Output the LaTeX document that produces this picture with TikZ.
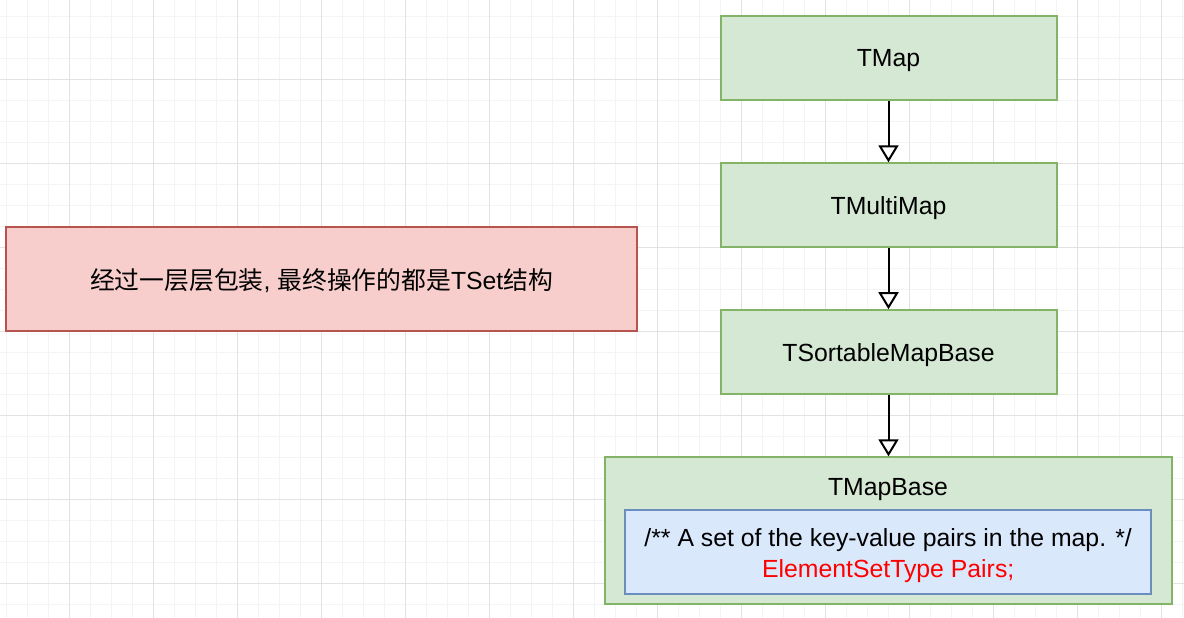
\documentclass[tikz,border=0pt]{standalone}
\usepackage{fontspec}
\setmainfont{Liberation Sans}
\newfontfamily\cjk{Noto Sans CJK SC}
\usetikzlibrary{arrows.meta}
\definecolor{gfill}{HTML}{D5E8D4}
\definecolor{gdraw}{HTML}{82B366}
\definecolor{rfill}{HTML}{F8CECC}
\definecolor{rdraw}{HTML}{B85450}
\definecolor{bfill}{HTML}{DAE8FC}
\definecolor{bdraw}{HTML}{6C8EBF}
\definecolor{gridminor}{HTML}{F4F4F4}
\definecolor{gridmajor}{HTML}{E2E2E2}
\definecolor{codered}{HTML}{FF0000}
\tikzset{
  box/.style={rectangle, draw=gdraw, fill=gfill, line width=2pt, inner sep=0pt,
    font=\fontsize{24.8}{31}\selectfont, align=center},
  onel/.style={text depth=0pt},
  redbox/.style={box, draw=rdraw, fill=rfill},
  bluebox/.style={box, draw=bdraw, fill=bfill},
  lbl/.style={inner sep=0pt, text depth=0pt, font=\fontsize{24.8}{31}\selectfont},
  conn/.style={line width=2pt, -{Triangle[width=20pt,length=17pt,fill=white]}}
}
\begin{document}
\begin{tikzpicture}[x=1pt,y=-1pt]
\useasboundingbox (0,0) rectangle (1184,618);
\fill[white] (0,0) rectangle (1184,618);
% grid
\foreach \i in {0,...,56} {
  \draw[gridminor, line width=0.9pt] ({6.3+21*\i},0) -- ({6.3+21*\i},618);
}
\foreach \j in {0,...,29} {
  \draw[gridminor, line width=0.9pt] (0,{16.3+21*\j}) -- (1184,{16.3+21*\j});
}
\foreach \i in {0,...,13} {
  \draw[gridmajor, line width=0.9pt] ({69.3+84*\i},0) -- ({69.3+84*\i},618);
}
\foreach \j in {0,...,6} {
  \draw[gridmajor, line width=0.9pt] (0,{79.3+84*\j}) -- (1184,{79.3+84*\j});
}
% nodes
\node[box, onel, minimum width=336pt, minimum height=84pt] (tmap) at (888.5,58) {TMap};
\node[box, onel, minimum width=336pt, minimum height=84pt] (tmulti) at (888.5,205.3) {TMultiMap};
\node[box, onel, minimum width=336pt, minimum height=84pt] (tsort) at (888.5,352.2) {TSortableMapBase};
\node[box, minimum width=567pt, minimum height=147pt] (tbase) at (888,530.8) {};
\node[lbl] (tbaselbl) at (888,486.7) {TMapBase};
\node[bluebox, minimum width=526pt, minimum height=84pt] (pairs) at (888.2,552.2) {};
\node[lbl, align=center, text depth=] (pairstext) at (888.2,555.2)
  {/** A set of the key-value pairs in the map. */\\\textcolor{codered}{ElementSetType Pairs;}};
\node[redbox, onel, minimum width=631pt, minimum height=104pt] (note) at (321.5,279)
  {{\cjk 经过一层层包装}, {\cjk 最终操作的都是}TSet{\cjk 结构}};
% connectors
\draw[conn] (tmap.south) -- (tmap.south |- tmulti.north);
\draw[conn] (tmulti.south) -- (tmulti.south |- tsort.north);
\draw[conn] (tsort.south) -- (tsort.south |- tbase.north);
\end{tikzpicture}
\end{document}
